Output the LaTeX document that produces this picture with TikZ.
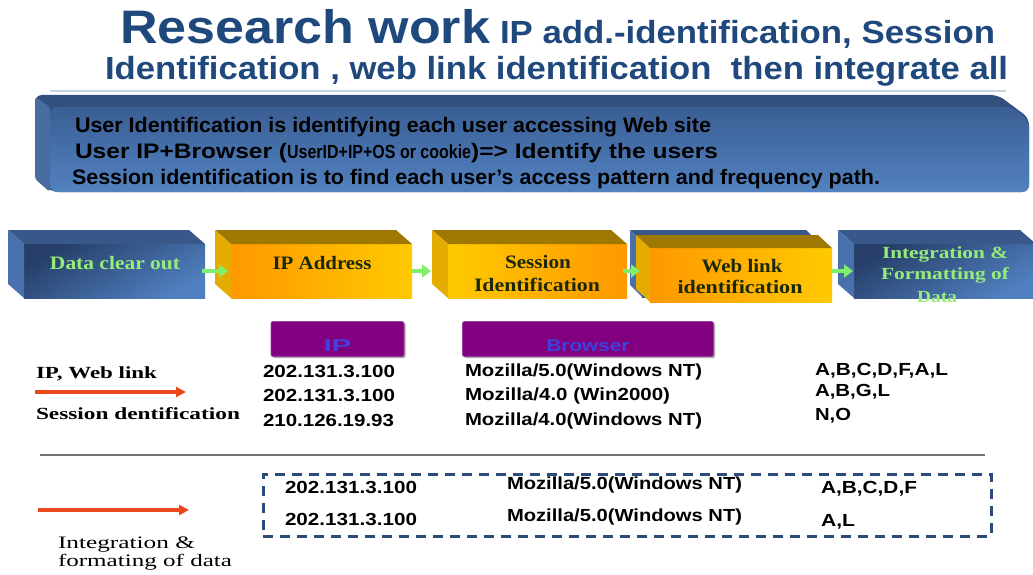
\documentclass[tikz,border=0pt]{standalone}
\usepackage{fontspec}
\usepackage{graphicx}
\setmainfont{Liberation Serif}
\newfontfamily\sansf{Liberation Sans}
\usetikzlibrary{arrows.meta,calc,shadows}

\definecolor{titleblue}{RGB}{31,73,125}
\definecolor{rulecol}{RGB}{200,212,228}
\definecolor{bandtop}{RGB}{50,80,126}
\definecolor{bandleft}{RGB}{72,108,160}
\definecolor{panelA}{RGB}{58,94,148}
\definecolor{panelB}{RGB}{82,130,192}
\definecolor{navyA}{RGB}{38,62,104}
\definecolor{navyB}{RGB}{80,128,192}
\definecolor{navytop}{RGB}{56,88,138}
\definecolor{navyleft}{RGB}{72,112,172}
\definecolor{orA}{RGB}{255,152,0}
\definecolor{orB}{RGB}{255,202,0}
\definecolor{ortop}{RGB}{158,120,0}
\definecolor{orleft}{RGB}{228,172,0}
\definecolor{lgreen}{RGB}{150,236,120}
\definecolor{darktxt}{RGB}{28,40,10}
\definecolor{agreen}{RGB}{128,240,108}
\definecolor{redarrow}{RGB}{236,72,30}
\definecolor{purp}{RGB}{128,0,128}
\definecolor{purptxt}{RGB}{64,64,220}
\definecolor{dashblue}{RGB}{45,75,120}

% stretch a text horizontally to a given width, keeping its height
\newcommand\fitw[2]{\resizebox{#1}{\height}{#2}}

% a box drawn as a block with a top face and a left face
\def\cdx{16}\def\cdy{14}
\newcommand\cubeat[8]{%
  \node[#6, minimum width={(#4-#2-\cdx)*1pt}, minimum height={(#5-#3-\cdy)*1pt},
        anchor=north west, inner sep=0pt, outer sep=0pt] (#1) at (#2+\cdx,#3+\cdy) {};
  \fill[#7] (#1.north west) -- ++(-\cdx,-\cdy) -- ($(#1.north east)+(-\cdx,-\cdy)$)
            -- (#1.north east) -- cycle;
  \fill[#8] (#1.north west) -- ++(-\cdx,-\cdy) -- ($(#1.south west)+(-\cdx,-\cdy)$)
            -- (#1.south west) -- cycle;
}

\begin{document}
\begin{tikzpicture}[x=1pt,y=-1pt,
  txt/.style={inner sep=0pt, outer sep=0pt},
  titletxt/.style={txt, anchor=base west, text=titleblue, font=\sansf\bfseries},
  paneltxt/.style={txt, anchor=base west, text=black, font=\sansf\bfseries\fontsize{21}{21}\selectfont},
  cubetxt/.style={txt, anchor=base, font=\bfseries\fontsize{19}{19}\selectfont},
  ortxt/.style={cubetxt, text=darktxt},
  navytxt/.style={cubetxt, text=lgreen},
  navyfront/.style={shade, top color=navyA, bottom color=navyB, shading angle=30},
  orfrontLR/.style={shade, left color=orA, right color=orB},
  orfrontRL/.style={shade, left color=orB, right color=orA},
  garrow/.style={draw=agreen, line width=4.5pt, -{Triangle[length=9pt,width=13pt]}},
  rarrow/.style={draw=redarrow, line width=3.5pt, -{Triangle[length=10pt,width=10pt]}},
  header/.style={fill=purp, draw=purp!75!white, line width=0.8pt, rounded corners=2pt,
                 inner sep=0pt, drop shadow={shadow xshift=1.5pt, shadow yshift=-1.5pt, opacity=0.7}},
  headtxt/.style={txt, text=purptxt, font=\sansf\bfseries\fontsize{17}{17}\selectfont},
  rowtxt/.style={txt, anchor=base west, font=\sansf\bfseries\fontsize{17.5}{17.5}\selectfont},
  labeltxt/.style={txt, anchor=base west, font=\bfseries\fontsize{17}{17}\selectfont},
  noteltxt/.style={txt, anchor=base west, font=\fontsize{17.5}{17.5}\selectfont},
  dashbox/.style={draw=dashblue, line width=2.5pt, dash pattern=on 10pt off 7pt, inner sep=0pt}
]
\useasboundingbox (0,0) rectangle (1033,575);

% ---------- title ----------
\node[titletxt, font=\sansf\bfseries\fontsize{47}{47}\selectfont] (t1) at (120,44) {\fitw{370pt}{Research work}};
\node[titletxt, font=\sansf\bfseries\fontsize{32}{32}\selectfont] (t2) at (500,44) {\fitw{495pt}{IP add.-identification, Session}};
\node[titletxt, font=\sansf\bfseries\fontsize{32}{32}\selectfont] (t3) at (105,80) {\fitw{903pt}{Identification , web link identification\ \ then integrate all}};
\draw[rulecol, line width=1.5pt] (50,91) -- (1006,91);

% ---------- definition panel ----------
\fill[bandtop, rounded corners=7pt] (35,95) -- (998,95) -- (1029,118) -- (1029,192) -- (52,192) -- (35,179) -- cycle;
\shade[top color=panelA, bottom color=panelB, rounded corners=7pt]
  (50,107) -- (1012,107) -- (1029,120) -- (1029,192) -- (50,192) -- cycle;
\fill[bandleft, rounded corners=3pt] (35,97) -- (50,107) -- (50,192) -- (35,179) -- cycle;
\node[paneltxt] (p1) at (75,132) {\fitw{636pt}{User Identification is identifying each user accessing Web site}};
\node[paneltxt] (p2) at (75,158) {\fitw{643pt}{User IP+Browser ({\fontsize{19}{19}\selectfont\scalebox{0.72}[1]{UserID+IP+OS or cookie}})=> Identify the users}};
\node[paneltxt] (p3) at (72,184) {\fitw{808pt}{Session identification is to find each user’s access pattern and frequency path.}};

% ---------- process chain ----------
\cubeat{dco}{8}{230}{205}{298}{navyfront}{navytop}{navyleft}
\cubeat{ipa}{215}{230}{412}{298}{orfrontLR}{ortop}{orleft}
\cubeat{ses}{432}{230}{627}{298}{orfrontRL}{ortop}{orleft}
\def\cdx{12}\def\cdy{12}
\cubeat{webback}{630}{230}{818}{297}{navyfront}{navytop}{navyleft}
\def\cdx{14}\def\cdy{13}
\cubeat{web}{636}{235}{832}{302}{orfrontLR}{ortop}{orleft}
\def\cdx{16}\def\cdy{14}
\cubeat{integ}{838}{230}{1036}{298}{navyfront}{navytop}{navyleft}

\node[navytxt] (dcot) at (115,269) {\fitw{130pt}{Data clear out}};
\node[ortxt] (ipat) at (322,269) {\fitw{99pt}{IP Address}};
\node[ortxt] (sest1) at (538,268) {\fitw{66pt}{Session}};
\node[ortxt] (sest2) at (537,291) {\fitw{126pt}{Identification}};
\node[ortxt] (webt1) at (742,272) {\fitw{81pt}{Web link}};
\node[ortxt] (webt2) at (740,293) {\fitw{125pt}{identification}};
\node[navytxt, font=\bfseries\fontsize{17}{17}\selectfont] (intt1) at (945,258) {\fitw{126pt}{Integration \&}};
\node[navytxt, font=\bfseries\fontsize{17}{17}\selectfont] (intt2) at (945,279) {\fitw{128pt}{Formatting of}};
\node[navytxt, font=\bfseries\fontsize{17}{17}\selectfont] (intt3) at (937,302) {\fitw{40pt}{Data}};

\draw[garrow, shorten >=3pt, shorten <=-3pt] (dco.east) -- (ipa.west);
\draw[garrow, shorten >=17pt] (ipa.east) -- (ses.west);
\draw[garrow, shorten >=10pt, shorten <=-4pt] (ses.east) -- (ses.east -| web.west);
\draw[garrow, shorten >=1pt] (integ.west -| web.east) -- (integ.west);

% ---------- identification table ----------
\node[header, minimum width=133pt, minimum height=35pt] (hip) at (337.5,339) {};
\node[header, minimum width=251pt, minimum height=35pt] (hbr) at (588,339) {};
\node[headtxt] (hipt) at ($(hip.center)+(0,7)$) {\fitw{28pt}{IP}};
\node[headtxt] (hbrt) at ($(hbr.center)+(0,7)$) {\fitw{83pt}{Browser}};

\node[labeltxt] (l1) at (36,378) {\fitw{121pt}{IP, Web link}};
\node[labeltxt] (l2) at (36,419) {\fitw{204pt}{Session dentification}};
\coordinate (ra1) at (35,392);
\coordinate (rb1) at (186,392);
\draw[rarrow] (ra1) -- (rb1);

\node[rowtxt] (ip1) at (263,377) {\fitw{132pt}{202.131.3.100}};
\node[rowtxt] (ip2) at (263,401) {\fitw{132pt}{202.131.3.100}};
\node[rowtxt] (ip3) at (263,426) {\fitw{131pt}{210.126.19.93}};
\node[rowtxt] (br1) at (465,376) {\fitw{237pt}{Mozilla/5.0(Windows NT)}};
\node[rowtxt] (br2) at (465,400) {\fitw{205pt}{Mozilla/4.0 (Win2000)}};
\node[rowtxt] (br3) at (465,425) {\fitw{237pt}{Mozilla/4.0(Windows NT)}};
\node[rowtxt] (pg1) at (815,375) {\fitw{133pt}{A,B,C,D,F,A,L}};
\node[rowtxt] (pg2) at (815,396) {\fitw{75pt}{A,B,G,L}};
\node[rowtxt] (pg3) at (815,420) {\fitw{36pt}{N,O}};

% ---------- merged result ----------
\draw[black!55, line width=1.3pt] (40,455) -- (985,455);
\node[dashbox, minimum width=728pt, minimum height=62pt, anchor=north west] (merged) at (262,473) {};
\node[rowtxt] (m1) at (285,493) {\fitw{132pt}{202.131.3.100}};
\node[rowtxt] (m2) at (285,525) {\fitw{132pt}{202.131.3.100}};
\node[rowtxt] (mb1) at (507,489) {\fitw{235pt}{Mozilla/5.0(Windows NT)}};
\node[rowtxt] (mb2) at (507,521) {\fitw{235pt}{Mozilla/5.0(Windows NT)}};
\node[rowtxt] (mp1) at (821,493) {\fitw{96pt}{A,B,C,D,F}};
\node[rowtxt] (mp2) at (821,526) {\fitw{34pt}{A,L}};

\coordinate (ra2) at (38,510);
\coordinate (rb2) at (189,510);
\draw[rarrow] (ra2) -- (rb2);
\node[noteltxt] (n1) at (58,548) {\fitw{137pt}{Integration \&}};
\node[noteltxt] (n2) at (58,566) {\fitw{174pt}{formating of data}};
\end{tikzpicture}
\end{document}
